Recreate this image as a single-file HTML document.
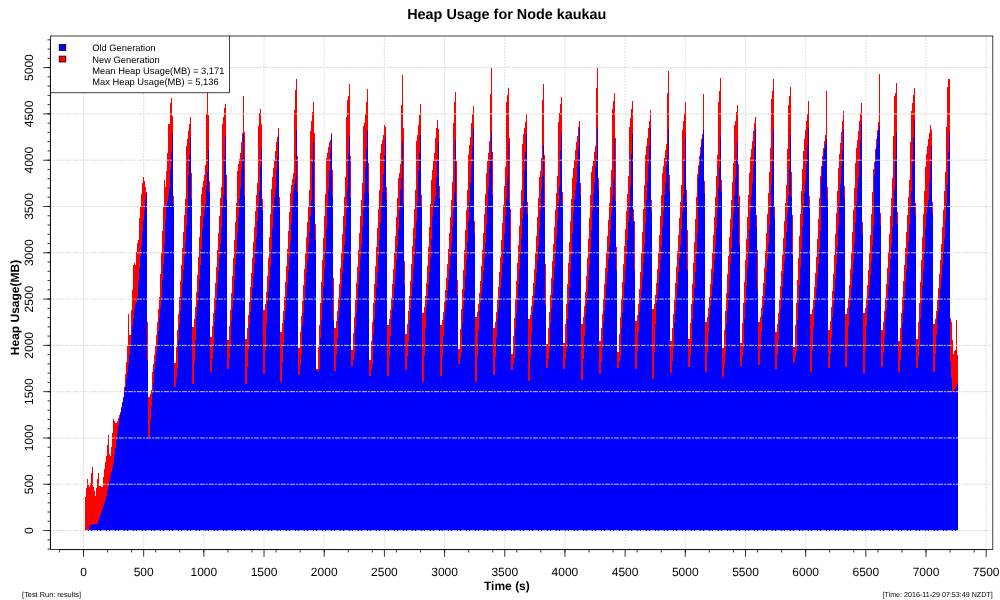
<!DOCTYPE html>
<html lang="en"><head><meta charset="utf-8"><title>Heap Usage for Node kaukau</title>
<style>html,body{margin:0;padding:0;background:#fff;}body{width:1000px;height:600px;overflow:hidden;}svg{display:block;will-change:transform;}</style></head>
<body>
<svg width="1000" height="600" viewBox="0 0 1000 600" font-family="'Liberation Sans', Arial, Helvetica, sans-serif" text-rendering="geometricPrecision">
<rect width="1000" height="600" fill="#fff"/>
<g stroke="#dcdcdc" stroke-width="0.9" fill="none" stroke-dasharray="2 1">
<line x1="83.50" y1="36.0" x2="83.50" y2="549.6"/>
<line x1="143.68" y1="36.0" x2="143.68" y2="549.6"/>
<line x1="203.86" y1="36.0" x2="203.86" y2="549.6"/>
<line x1="264.04" y1="36.0" x2="264.04" y2="549.6"/>
<line x1="324.22" y1="36.0" x2="324.22" y2="549.6"/>
<line x1="384.40" y1="36.0" x2="384.40" y2="549.6"/>
<line x1="444.58" y1="36.0" x2="444.58" y2="549.6"/>
<line x1="504.76" y1="36.0" x2="504.76" y2="549.6"/>
<line x1="564.94" y1="36.0" x2="564.94" y2="549.6"/>
<line x1="625.12" y1="36.0" x2="625.12" y2="549.6"/>
<line x1="685.30" y1="36.0" x2="685.30" y2="549.6"/>
<line x1="745.48" y1="36.0" x2="745.48" y2="549.6"/>
<line x1="805.66" y1="36.0" x2="805.66" y2="549.6"/>
<line x1="865.84" y1="36.0" x2="865.84" y2="549.6"/>
<line x1="926.02" y1="36.0" x2="926.02" y2="549.6"/>
<line x1="986.20" y1="36.0" x2="986.20" y2="549.6"/>
</g>
<path d="M85 530.6V497.2H86V488.2H87V478.8H88V484.8H89V487.3H90V482.8H91V473.4H92V467.3H93V486.9H94V491.2H95V495.6H96V487.5H97V479.3H98V473.3H99V486H100V486.3H101V486.6H102V487H103V476.9H104V468.9H105V462.3H106V455.7H107V445.3H108V434.5H109V454H110V456H111V446.5H112V432.9H113V419.4H114V421.2H115V423H117V420.6H118V418H119V415.3H120V411.6H121V406.8H122V402H123V396.7H124V387H125V374H126V362H127V346H128V314H129V335H131V310H132V290H133V264.5H134V263H135V265H136V251.7H137V243.3H138V240H139V218H140V206H141V193.7H142V182.7H143V176.5H144V181H145V187H146V191.5H147V322H148V397H150V393.5H151V390H152V372H153V364H154V355H155V346H156V335H157V322H158V309H159V297H160V274H161V252H162V231H163V207H164V180H165V187H166V171H167V153H168V124H170V103H171V98H172V116H173V196H174V363H176V346.6H177V330.2H178V313.8H179V297.4H180V281H181V264.6H182V248.2H183V231.8H184V215.4H185V199H186V146H187V139H188V131H189V124H190V116.6H191V173H192V327H194V319.1H195V306.8H196V292H197V275.2H198V256.8H199V237.1H200V216.1H201V194H202V187H203V181H204V175H205V165H206V113H207V55H208V115H209V181H210V337H212V326.1H213V312.7H214V298.1H215V282.7H216V266.7H217V250.2H218V233.1H219V215.8H220V198H221V187H222V124H223V117H224V108H225V104H226V175H227V340H229V326.1H230V310.2H231V293.4H232V276.1H233V258.3H234V240.2H235V221.7H236V203H237V171H238V164H239V159H240V153H241V142H242V133H243V96H244V132H245V339H247V328.1H248V315.3H249V301.6H250V287.4H251V272.7H252V257.7H253V242.4H254V226.8H255V211H256V195H257V183H258V126H259V113H260V109H261V124H262V199H263V310H265V303.5H266V291.5H267V276.1H268V257.7H269V237H270V214H271V189H272V177H273V168H274V160H275V151H276V142H277V137H278V128H279V197H280V332H282V323.3H283V311.1H284V297.2H285V282H286V265.7H287V248.6H288V230.7H289V212.2H290V193H291V185H292V179H293V173H294V110H295V90H296V79H297V156H298V348H300V332.2H301V316.4H302V300.6H303V284.8H304V269H305V253.2H306V237.4H307V221.6H308V205.8H309V190H310V131H311V121H312V112H313V102H314V133H315V224H316V369H318V347.1H319V325.2H320V303.4H321V281.5H322V259.6H323V237.8H324V215.9H325V194H326V158H327V153H328V147H329V142H330V140H331V133H332V170H333V278H334V328H336V321.1H337V310.5H338V297.9H339V283.8H340V268.4H341V251.8H342V234.4H343V216H344V196.9H345V177H346V117H347V100H348V96H349V84H350V156H351V350H353V333.3H354V316.6H355V299.9H356V283.2H357V266.5H358V249.8H359V233.1H360V216.4H361V199.7H362V183H363V126H364V123H365V113H366V102H367V89H368V163H369V360H371V341.1H372V322.2H373V303.3H374V284.4H375V265.6H376V246.7H377V227.8H378V208.9H379V190H380V153H381V144H382V140H383V135H384V125H385V127H386V187H387V325H389V319.1H390V309.6H391V297.8H392V284.2H393V269.3H394V253.1H395V235.8H396V217.4H397V198.2H398V178H399V173H400V164H401V105H402V75H403V128H404V261H405V334H407V324.1H408V311H409V296.3H410V280.5H411V263.7H412V246.2H413V228H414V209.3H415V190H416V141H417V135H418V125H419V115H420V104H421V195H422V313H424V307.1H425V296.4H426V282.5H427V266H428V247.3H429V226.6H430V204.1H431V180H432V170H433V161H434V153H435V138H436V128H437V120H438V129H439V186H440V325H442V320H443V311.9H444V301.8H445V290.3H446V277.6H447V263.8H448V249.1H449V233.4H450V217H451V199.9H452V182H453V123H454V102H455V92H456V161H457V280H458V349H460V329.1H461V309.2H462V289.4H463V269.5H464V249.6H465V229.8H466V209.9H467V190H468V155H469V145H470V137H471V123H472V114H473V106H474V221H475V317H477V312.4H478V304.1H479V293.3H480V280.6H481V266.1H482V250.1H483V232.7H484V214H485V194.1H486V173H487V161H488V153H489V141H490V94H491V68H492V152H493V328H495V321.5H496V311.6H497V299.8H498V286.5H499V272H500V256.5H501V240.1H502V222.9H503V205H504V186.3H505V167H506V102H507V95H508V88H509V138H510V209H511V354H513V335.8H514V317.6H515V299.3H516V281.1H517V262.9H518V244.7H519V226.4H520V208.2H521V190H522V144H523V134H524V128H525V122H526V114H527V202H528V319H530V314.5H531V306.3H532V295.7H533V283.1H534V268.8H535V253H536V235.8H537V217.4H538V197.8H539V177H540V171H541V158H542V100H543V84H544V155H545V264H546V344H548V328H549V311.5H550V294.8H551V278H552V261.2H553V244.2H554V227.2H555V210.2H556V193.1H557V176H558V122H559V113H560V104H561V97H562V192H563V343H565V324H566V304H567V283.5H568V262.8H569V241.8H570V220.7H571V199.4H572V178H573V168H574V160H575V150H576V142H577V136H578V127H579V121H580V183H581V324H583V317.3H584V306H585V292.1H586V275.9H587V258H588V238.5H589V217.6H590V195.4H591V172H592V166H593V161H594V152H595V146H596V88H597V68H598V178H599V341H601V328.2H602V313.9H603V299H604V283.7H605V268H606V252.1H607V236H608V219.8H609V203.3H610V186.7H611V170H612V109H613V101H614V93H615V138H616V247H617V352H619V334.4H620V316.8H621V299.2H622V281.6H623V264H624V246.4H625V228.8H626V211.2H627V193.6H628V176H629V127H630V118H631V109H632V101H633V209H634V221H635V321H637V314.7H638V303.5H639V289.2H640V272.2H641V253.2H642V232.2H643V209.4H644V185H645V155H646V146H647V138H648V128H649V121H650V110H651V200H652V309H654V304H655V294.8H656V282.8H657V268.7H658V252.7H659V235H660V215.7H661V195H662V173H663V166H664V158H665V150H666V144H667V93H668V71H669V175H670V341H672V328H673V313.6H674V298.5H675V283H676V267.2H677V251.1H678V234.9H679V218.4H680V201.8H681V185H682V130H683V121H684V113H685V102H686V190H687V230H688V339H690V322.9H691V304.1H692V284H693V263.1H694V241.5H695V219.4H696V196.9H697V174H698V165H699V156H700V147H701V139H702V134H703V94H704V181H705V322H707V316.9H708V308.1H709V296.8H710V283.7H711V268.9H712V252.7H713V235.3H714V216.6H715V196.8H716V176H717V155H718V102H719V91H720V78H721V180H722V348H724V329.5H725V311H726V292.5H727V274H728V255.5H729V237H730V218.5H731V200H732V181.5H733V163H734V125H735V121H736V112H737V105H738V164H739V196H740V343H742V323.4H743V302.8H744V281.7H745V260.3H746V238.7H747V217H748V195H749V173H750V157H751V149H752V141H753V131H754V123H755V117H756V215H757V250H758V322H760V316.8H761V307.7H762V296.1H763V282.6H764V267.5H765V250.8H766V232.9H767V213.7H768V193.4H769V172H770V148H771V99H772V91H773V79H774V206H775V332H777V323.9H778V312.7H779V299.8H780V285.7H781V270.6H782V254.8H783V238.2H784V221H785V203.3H786V185H787V149H788V105H789V96H790V87H791V172H792V215H793V347H795V324.8H796V302.5H797V280.2H798V258H799V235.8H800V213.5H801V191.2H802V169H803V151H804V139H805V130H806V121H807V114H808V101H809V196H810V314H812V308.9H813V299.5H814V287.4H815V273.1H816V256.9H817V238.9H818V219.3H819V198.3H820V176H821V166H822V156H823V148H824V141H825V135H826V91H827V187H828V330H830V320.7H831V307.1H832V291.2H833V273.5H834V254.5H835V234.4H836V213.2H837V191H838V168H839V154H840V143H841V132H842V121H843V111H844V186H845V314H847V308.4H848V298.2H849V284.9H850V269.3H851V251.5H852V231.8H853V210.4H854V187.5H855V163H856V148H857V140H858V131H859V121H860V113H861V103H862V222H863V313H865V307.7H866V297.9H867V285.3H868V270.3H869V253.4H870V234.6H871V214.2H872V192.3H873V169H874V162H875V149H876V139H877V130H878V122H879V74H880V213H881V330H883V322.4H884V311.2H885V298.2H886V283.8H887V268.3H888V251.8H889V234.4H890V216.3H891V197.5H892V178H893V136H894V96H895V93H896V83H897V212H898V341H900V327.6H901V312.7H902V297.1H903V281.2H904V264.8H905V248.3H906V231.5H907V214.5H908V197.3H909V180H910V142H911V111H912V103H913V95H914V88H915V203H916V339H918V322.2H919V302.6H920V281.7H921V259.9H922V237.4H923V214.4H924V190.9H925V167H926V154H927V146H928V139H929V133H930V125H931V130H932V202H933V324H935V319H936V310.5H937V300H938V287.9H939V274.4H940V259.7H941V244H942V227.3H943V209.7H944V191.2H945V172H946V127H947V87H948V79H950V318H951V322H952V340H953V354H954V351H955V350H956V320H957V355H958V530.6Z" fill="#ff0000" shape-rendering="crispEdges"/>
<path d="M88 530.6V530.1H89V526.2H90V524.7H91V524.6H92V524.4H93V524.3H94V524.1H95V524H96V523.8H97V523.7H98V521.2H99V517H100V514.5H101V512H102V509H103V505.9H104V503H105V500H106V496.4H107V491.2H108V486H109V481H110V476.1H111V471.8H112V467.8H113V462.5H114V454.6H115V447.5H116V440.4H117V433.1H118V425.7H119V419.2H120V413.5H121V408.1H122V403.3H123V398.2H124V392.1H125V386H126V379.2H127V371.5H128V363.8H129V355H130V345H131V335H132V325.8H133V317.5H134V309.2H135V303.9H136V301.7H137V297.1H138V282.4H139V268.8H140V256.2H141V243.8H142V231.2H143V220H144V210H145V200.4H146V194H147V360H148V437H150V421.8H151V405.8H152V393.8H153V383H154V370H155V361.5H156V352.5H157V342.5H158V330.5H159V317.9H160V308.1H161V298.5H162V280.4H163V263.5H164V243.5H165V221H166V206H167V201H168V196H169V188H170V170H171V152H172V134H173V204H174V387H176V377.9H177V368.3H178V340.4H179V324.4H180V310.7H181V297H182V283.3H183V269.6H184V255.9H185V242H186V225.6H187V209.2H188V174.5H189V155H190V137H191V199H192V384H194V362.3H195V339.5H196V316H197V305.1H198V292.8H199V279.4H200V265H201V248.9H202V228.6H203V216.9H204V210.2H205V204H206V186H207V172H208V150H209V193H210V372H212V358.7H213V344.7H214V321.7H215V309.9H216V297.6H217V284.7H218V271.4H219V257.8H220V243.7H221V226.5H222V208.9H223V194.5H224V157.5H225V137H226V199H227V369H229V358H230V346.4H231V321.2H232V307.8H233V294H234V279.8H235V265.3H236V250.7H237V232.9H238V217.3H239V199.2H240V188H241V170H242V158H243V134H244V196H245V384H247V366.9H248V348.9H249V323.7H250V312.2H251V300.4H252V288.3H253V275.9H254V263.2H255V250.4H256V237H257V220.9H258V205H259V191H260V166H261V148H262V210H263V374H265V349.7H266V324.1H267V302.4H268V292.3H269V280.1H270V266.3H271V249.3H272V227.5H273V209.9H274V198.2H275V189H276V171H277V157.5H278V135H279V205H280V382H282V363H283V343H284V319.5H285V308.7H286V296.8H287V284.2H288V270.9H289V257.1H290V241.7H291V223.4H292V204.6H293V191H294V184H295V178H296V130H297V192H298V375H300V364.7H301V353.9H302V326.3H303V312.9H304V299.6H305V286.3H306V273H307V259.7H308V246.4H309V231.5H310V215.7H311V199.9H312V162.5H313V142H314V204H315V240H316V371H319V369.4H320V338.2H321V320.4H322V303.3H323V286.2H324V269.1H325V250.7H326V228.8H327V207H328V189H329V171H330V153H331V135H332V197H333V320H334V371H336V354.7H337V337.5H338V318H339V308.3H340V297.3H341V285.5H342V272.8H343V259.5H344V245.1H345V227.2H346V208.5H347V188.9H348V154H349V136H350V198H351V366H353V359.9H354V353.5H355V327H356V313.1H357V299.1H358V285.2H359V271.3H360V257.4H361V243.5H362V226.8H363V210.1H364V193.3H365V167H366V149H367V131H368V193H369V376H371V369.9H372V363.5H373V333.7H374V317.7H375V302.4H376V287.1H377V271.8H378V256.4H379V239.2H380V222.6H381V206.6H382V192H383V174H384V156H385V138H386V200H387V376H389V356.6H390V336.2H391V316.6H392V307.5H393V297.1H394V285.8H395V273.4H396V260.4H397V246.4H398V228.6H399V209.8H400V190.1H401V177.5H402V142H403V204H404V285H405V370H407V356.3H408V341.9H409V320.1H410V308.5H411V296.1H412V283.1H413V269.4H414V255.3H415V239.1H416V220.6H417V201.6H418V171H419V153H420V135H421V207H422V382H424V355.8H425V328.2H426V305.6H427V296.2H428V284.8H429V271.8H430V257.9H431V238.9H432V217.4H433V206H434V201H435V196H436V178H437V160H438V142H439V198H440V376H442V356.6H443V336.2H444V317.9H445V309.8H446V300.6H447V290.5H448V279.7H449V268.1H450V255.9H451V243.2H452V227.2H453V210.4H454V192.9H455V140H456V202H457V295H458V364H460V358.3H461V352.3H462V323.3H463V307.4H464V291.4H465V275.5H466V259.6H467V241.7H468V221.8H469V201.9H470V183H471V165H472V147H473V129H474V233H475V382H477V357.3H478V331.3H479V310.8H480V302.8H481V293.3H482V282.6H483V270.6H484V257.8H485V243.4H486V225.3H487V206H488V187H489V169H490V159H491V133H492V195H493V375H495V357.1H496V338.3H497V318.6H498V309.3H499V298.8H500V287.5H501V275.5H502V262.7H503V249.5H504V233.5H505V215.9H506V197.6H507V178.7H508V141H509V203H510V250H511V370H513V363.9H514V357.5H515V328.8H516V313.9H517V299H518V284.1H519V269.2H520V254.3H521V237.6H522V219.3H523V201.1H524V170H525V152H526V134H527V214H528V381H530V357.4H531V332.6H532V312.8H533V304.8H534V295.3H535V284.6H536V272.8H537V260.2H538V246.4H539V228.6H540V209.6H541V189.4H542V176H543V145H544V207H545V305H546V368H548V358.9H549V349.3H550V322.6H551V308.8H552V294.9H553V281H554V267H555V253H556V237.7H557V220.7H558V203.7H559V186.6H560V151H561V133H562V204H563V369H565V359.1H566V348.7H567V319.3H568V303.4H569V287.2H570V270.8H571V254.3H572V233.2H573V212H574V198.9H575V190H576V182H577V164H578V148H579V128H580V195H581V380H583V358.7H584V336.3H585V314.6H586V304.4H587V292.8H588V279.8H589V265.8H590V250.3H591V230.1H592V211.4H593V194.3H594V182H595V165.5H596V158.5H597V128H598V190H599V374H601V361.5H602V348.3H603V323.2H604V310.9H605V298.2H606V285.3H607V272.2H608V258.9H609V245.6H610V229.9H611V213.5H612V197H613V180.4H614V139H615V201H616V270H617V368H619V361.9H620V355.5H621V327.7H622V313.2H623V298.7H624V284.2H625V269.7H626V255.2H627V239.6H628V222H629V204.4H630V186.8H631V153.5H632V134H633V221H634V270H635V369H637V350.8H638V331.6H639V312.3H640V302.3H641V290.6H642V277.3H643V262.9H644V244.7H645V222.8H646V199.7H647V182H648V164H649V146H650V128H651V212H652V379H654V352.4H655V324.4H656V302.9H657V294.5H658V284.4H659V272.8H660V260.2H661V245.8H662V227.3H663V210.9H664V195H665V183H666V165H667V156H668V129H669V191H670V373H672V360.8H673V348H674V323H675V310.6H676V297.8H677V284.8H678V271.6H679V258.2H680V244.7H681V228.6H682V212.1H683V195.4H684V159.5H685V138H686V202H687V270H688V367H690V356.4H691V345.2H692V318.5H693V303.4H694V287.7H695V271.5H696V254.3H697V232.5H698V177H699V166H700V155H701V145H702V138H703V130H704V193H705V372H707V353H708V333H709V314.8H710V306.3H711V296.3H712V285.3H713V273.1H714V260.2H715V246H716V227.9H717V208.7H718V188.4H719V167.5H720V137H721V192H722V377H724V366H725V354.4H726V323.6H727V308.6H728V293.5H729V278.4H730V263.3H731V248.2H732V230.4H733V212.9H734V196H735V178H736V160H737V142H738V204H739V245H740V366H742V357.3H743V348.1H744V318.9H745V302.6H746V286.1H747V269.4H748V251.5H749V229.8H750V211.3H751V195H752V183H753V165H754V147H755V129H756V227H757V290H758V365H760V348.7H761V331.5H762V314.6H763V305.9H764V295.8H765V284.5H766V272.1H767V258.9H768V243.9H769V225.3H770V205.5H771V184.7H772V162H773V130H774V218H775V369H777V354.9H778V340.1H779V320.3H780V310.1H781V298.8H782V286.9H783V274.4H784V261.4H785V247.9H786V231.6H787V214.2H788V196.1H789V169H790V135H791V197H792V255H793V363H795V356.9H796V350.5H797V320H798V302.7H799V285.4H800V268.1H801V248.9H802V226.6H803V208.5H804V192.9H805V182H806V164H807V146H808V128H809V208H810V372H812V350H813V326.8H814V307.4H815V298.7H816V288.5H817V276.7H818V263.8H819V249.9H820V231.1H821V178H822V166H823V156H824V149H825V144H826V139H827V199H828V368H830V353.6H831V338.4H832V317.1H833V305.3H834V292.4H835V278.3H836V263.6H837V246.5H838V225.8H839V204.1H840V184H841V166H842V150.5H843V130H844V198H845V367H847V346.9H848V325.7H849V306.8H850V297.6H851V286.7H852V274.1H853V260.5H854V243.6H855V223.1H856V204.9H857V188.5H858V178H859V160H860V142H861V124H862V234H863V373H865V350.2H866V326.2H867V306.2H868V297.3H869V286.8H870V274.6H871V261.4H872V246H873V226.4H874V174H875V159H876V147H877V136H878V131H879V126H880V225H881V367H883V352.9H884V338.1H885V319H886V308.8H887V297.6H888V285.5H889V272.7H890V259.3H891V245.1H892V227.3H893V208.9H894V189.7H895V159H896V132H897V224H898V372H900V360.2H901V347.8H902V322.6H903V309.8H904V296.8H905V283.4H906V269.9H907V256.2H908V241.9H909V225H910V207.9H911V190.7H912V163H913V138H914V120H915V215H916V368H918V357H919V345.4H920V318H921V302.5H922V286.3H923V269.6H924V250.6H925V227.9H926V214H927V205H928V200H929V182H930V164H931V146H932V214H933V372H935V353.8H936V334.6H937V316.7H938V308.5H939V299H940V288.5H941V277.2H942V265.1H943V252.3H944V237.6H945V220.5H946V202.5H947V183.6H948V151.5H949V133H950V362H951V378H952V392H953V391H954V390H955V388H956V386H957V384H958V530.6Z" fill="#0000ff" shape-rendering="crispEdges"/>
<g stroke="#dcdcdc" stroke-width="0.9" fill="none" stroke-dasharray="5 1 2 1" stroke-dashoffset="3.5">
<line x1="50.4" y1="530.56" x2="992.8" y2="530.56"/>
<line x1="50.4" y1="484.26" x2="992.8" y2="484.26"/>
<line x1="50.4" y1="437.97" x2="992.8" y2="437.97"/>
<line x1="50.4" y1="391.67" x2="992.8" y2="391.67"/>
<line x1="50.4" y1="345.37" x2="992.8" y2="345.37"/>
<line x1="50.4" y1="299.08" x2="992.8" y2="299.08"/>
<line x1="50.4" y1="252.78" x2="992.8" y2="252.78"/>
<line x1="50.4" y1="206.48" x2="992.8" y2="206.48"/>
<line x1="50.4" y1="160.19" x2="992.8" y2="160.19"/>
<line x1="50.4" y1="113.89" x2="992.8" y2="113.89"/>
<line x1="50.4" y1="67.59" x2="992.8" y2="67.59"/>
</g>
<rect x="50.4" y="36.0" width="179.10" height="56.70" fill="#fff"/>
<path d="M229.5 36.0V92.7H50.4" fill="none" stroke="#000" stroke-width="0.75"/>
<rect x="59.2" y="44.6" width="6.6" height="5.9" fill="#0000ff" stroke="#000" stroke-width="0.75"/>
<rect x="59.2" y="56.1" width="6.6" height="5.9" fill="#ff0000" stroke="#000" stroke-width="0.75"/>
<g font-size="9.36" fill="#000">
<text x="92.2" y="50.7">Old Generation</text>
<text x="92.2" y="62.5">New Generation</text>
<text x="92.2" y="73.9">Mean Heap Usage(MB) = 3,171</text>
<text x="92.2" y="85.3">Max Heap Usage(MB) = 5,136</text>
</g>
<g stroke="#000" stroke-width="0.75" fill="none">
<rect x="50.4" y="36.0" width="942.40" height="513.60"/>
<line x1="50.4" y1="39.82" x2="50.4" y2="549.08"/>
<line x1="59.43" y1="549.6" x2="986.20" y2="549.6"/>
</g>
<g stroke="#000" stroke-width="0.8" fill="none">
<line x1="43.20" y1="530.56" x2="50.4" y2="530.56"/>
<line x1="43.20" y1="484.26" x2="50.4" y2="484.26"/>
<line x1="43.20" y1="437.97" x2="50.4" y2="437.97"/>
<line x1="43.20" y1="391.67" x2="50.4" y2="391.67"/>
<line x1="43.20" y1="345.37" x2="50.4" y2="345.37"/>
<line x1="43.20" y1="299.08" x2="50.4" y2="299.08"/>
<line x1="43.20" y1="252.78" x2="50.4" y2="252.78"/>
<line x1="43.20" y1="206.48" x2="50.4" y2="206.48"/>
<line x1="43.20" y1="160.19" x2="50.4" y2="160.19"/>
<line x1="43.20" y1="113.89" x2="50.4" y2="113.89"/>
<line x1="43.20" y1="67.59" x2="50.4" y2="67.59"/>
<line x1="47.50" y1="549.08" x2="50.4" y2="549.08"/>
<line x1="47.50" y1="539.82" x2="50.4" y2="539.82"/>
<line x1="47.50" y1="530.56" x2="50.4" y2="530.56"/>
<line x1="47.50" y1="521.30" x2="50.4" y2="521.30"/>
<line x1="47.50" y1="512.04" x2="50.4" y2="512.04"/>
<line x1="47.50" y1="502.78" x2="50.4" y2="502.78"/>
<line x1="47.50" y1="493.52" x2="50.4" y2="493.52"/>
<line x1="47.50" y1="484.26" x2="50.4" y2="484.26"/>
<line x1="47.50" y1="475.00" x2="50.4" y2="475.00"/>
<line x1="47.50" y1="465.74" x2="50.4" y2="465.74"/>
<line x1="47.50" y1="456.49" x2="50.4" y2="456.49"/>
<line x1="47.50" y1="447.23" x2="50.4" y2="447.23"/>
<line x1="47.50" y1="437.97" x2="50.4" y2="437.97"/>
<line x1="47.50" y1="428.71" x2="50.4" y2="428.71"/>
<line x1="47.50" y1="419.45" x2="50.4" y2="419.45"/>
<line x1="47.50" y1="410.19" x2="50.4" y2="410.19"/>
<line x1="47.50" y1="400.93" x2="50.4" y2="400.93"/>
<line x1="47.50" y1="391.67" x2="50.4" y2="391.67"/>
<line x1="47.50" y1="382.41" x2="50.4" y2="382.41"/>
<line x1="47.50" y1="373.15" x2="50.4" y2="373.15"/>
<line x1="47.50" y1="363.89" x2="50.4" y2="363.89"/>
<line x1="47.50" y1="354.63" x2="50.4" y2="354.63"/>
<line x1="47.50" y1="345.37" x2="50.4" y2="345.37"/>
<line x1="47.50" y1="336.11" x2="50.4" y2="336.11"/>
<line x1="47.50" y1="326.86" x2="50.4" y2="326.86"/>
<line x1="47.50" y1="317.60" x2="50.4" y2="317.60"/>
<line x1="47.50" y1="308.34" x2="50.4" y2="308.34"/>
<line x1="47.50" y1="299.08" x2="50.4" y2="299.08"/>
<line x1="47.50" y1="289.82" x2="50.4" y2="289.82"/>
<line x1="47.50" y1="280.56" x2="50.4" y2="280.56"/>
<line x1="47.50" y1="271.30" x2="50.4" y2="271.30"/>
<line x1="47.50" y1="262.04" x2="50.4" y2="262.04"/>
<line x1="47.50" y1="252.78" x2="50.4" y2="252.78"/>
<line x1="47.50" y1="243.52" x2="50.4" y2="243.52"/>
<line x1="47.50" y1="234.26" x2="50.4" y2="234.26"/>
<line x1="47.50" y1="225.00" x2="50.4" y2="225.00"/>
<line x1="47.50" y1="215.74" x2="50.4" y2="215.74"/>
<line x1="47.50" y1="206.48" x2="50.4" y2="206.48"/>
<line x1="47.50" y1="197.23" x2="50.4" y2="197.23"/>
<line x1="47.50" y1="187.97" x2="50.4" y2="187.97"/>
<line x1="47.50" y1="178.71" x2="50.4" y2="178.71"/>
<line x1="47.50" y1="169.45" x2="50.4" y2="169.45"/>
<line x1="47.50" y1="160.19" x2="50.4" y2="160.19"/>
<line x1="47.50" y1="150.93" x2="50.4" y2="150.93"/>
<line x1="47.50" y1="141.67" x2="50.4" y2="141.67"/>
<line x1="47.50" y1="132.41" x2="50.4" y2="132.41"/>
<line x1="47.50" y1="123.15" x2="50.4" y2="123.15"/>
<line x1="47.50" y1="113.89" x2="50.4" y2="113.89"/>
<line x1="47.50" y1="104.63" x2="50.4" y2="104.63"/>
<line x1="47.50" y1="95.37" x2="50.4" y2="95.37"/>
<line x1="47.50" y1="86.11" x2="50.4" y2="86.11"/>
<line x1="47.50" y1="76.85" x2="50.4" y2="76.85"/>
<line x1="47.50" y1="67.59" x2="50.4" y2="67.59"/>
<line x1="47.50" y1="58.34" x2="50.4" y2="58.34"/>
<line x1="47.50" y1="49.08" x2="50.4" y2="49.08"/>
<line x1="47.50" y1="39.82" x2="50.4" y2="39.82"/>
<line x1="83.50" y1="549.6" x2="83.50" y2="556.80"/>
<line x1="143.68" y1="549.6" x2="143.68" y2="556.80"/>
<line x1="203.86" y1="549.6" x2="203.86" y2="556.80"/>
<line x1="264.04" y1="549.6" x2="264.04" y2="556.80"/>
<line x1="324.22" y1="549.6" x2="324.22" y2="556.80"/>
<line x1="384.40" y1="549.6" x2="384.40" y2="556.80"/>
<line x1="444.58" y1="549.6" x2="444.58" y2="556.80"/>
<line x1="504.76" y1="549.6" x2="504.76" y2="556.80"/>
<line x1="564.94" y1="549.6" x2="564.94" y2="556.80"/>
<line x1="625.12" y1="549.6" x2="625.12" y2="556.80"/>
<line x1="685.30" y1="549.6" x2="685.30" y2="556.80"/>
<line x1="745.48" y1="549.6" x2="745.48" y2="556.80"/>
<line x1="805.66" y1="549.6" x2="805.66" y2="556.80"/>
<line x1="865.84" y1="549.6" x2="865.84" y2="556.80"/>
<line x1="926.02" y1="549.6" x2="926.02" y2="556.80"/>
<line x1="986.20" y1="549.6" x2="986.20" y2="556.80"/>
<line x1="59.43" y1="549.6" x2="59.43" y2="552.50"/>
<line x1="83.50" y1="549.6" x2="83.50" y2="552.50"/>
<line x1="107.57" y1="549.6" x2="107.57" y2="552.50"/>
<line x1="131.64" y1="549.6" x2="131.64" y2="552.50"/>
<line x1="155.72" y1="549.6" x2="155.72" y2="552.50"/>
<line x1="179.79" y1="549.6" x2="179.79" y2="552.50"/>
<line x1="203.86" y1="549.6" x2="203.86" y2="552.50"/>
<line x1="227.93" y1="549.6" x2="227.93" y2="552.50"/>
<line x1="252.00" y1="549.6" x2="252.00" y2="552.50"/>
<line x1="276.08" y1="549.6" x2="276.08" y2="552.50"/>
<line x1="300.15" y1="549.6" x2="300.15" y2="552.50"/>
<line x1="324.22" y1="549.6" x2="324.22" y2="552.50"/>
<line x1="348.29" y1="549.6" x2="348.29" y2="552.50"/>
<line x1="372.36" y1="549.6" x2="372.36" y2="552.50"/>
<line x1="396.44" y1="549.6" x2="396.44" y2="552.50"/>
<line x1="420.51" y1="549.6" x2="420.51" y2="552.50"/>
<line x1="444.58" y1="549.6" x2="444.58" y2="552.50"/>
<line x1="468.65" y1="549.6" x2="468.65" y2="552.50"/>
<line x1="492.72" y1="549.6" x2="492.72" y2="552.50"/>
<line x1="516.80" y1="549.6" x2="516.80" y2="552.50"/>
<line x1="540.87" y1="549.6" x2="540.87" y2="552.50"/>
<line x1="564.94" y1="549.6" x2="564.94" y2="552.50"/>
<line x1="589.01" y1="549.6" x2="589.01" y2="552.50"/>
<line x1="613.08" y1="549.6" x2="613.08" y2="552.50"/>
<line x1="637.16" y1="549.6" x2="637.16" y2="552.50"/>
<line x1="661.23" y1="549.6" x2="661.23" y2="552.50"/>
<line x1="685.30" y1="549.6" x2="685.30" y2="552.50"/>
<line x1="709.37" y1="549.6" x2="709.37" y2="552.50"/>
<line x1="733.44" y1="549.6" x2="733.44" y2="552.50"/>
<line x1="757.52" y1="549.6" x2="757.52" y2="552.50"/>
<line x1="781.59" y1="549.6" x2="781.59" y2="552.50"/>
<line x1="805.66" y1="549.6" x2="805.66" y2="552.50"/>
<line x1="829.73" y1="549.6" x2="829.73" y2="552.50"/>
<line x1="853.80" y1="549.6" x2="853.80" y2="552.50"/>
<line x1="877.88" y1="549.6" x2="877.88" y2="552.50"/>
<line x1="901.95" y1="549.6" x2="901.95" y2="552.50"/>
<line x1="926.02" y1="549.6" x2="926.02" y2="552.50"/>
<line x1="950.09" y1="549.6" x2="950.09" y2="552.50"/>
<line x1="974.16" y1="549.6" x2="974.16" y2="552.50"/>
</g>
<g font-size="12" fill="#000" text-anchor="middle">
<text x="83.50" y="575.6">0</text>
<text x="143.68" y="575.6">500</text>
<text x="203.86" y="575.6">1000</text>
<text x="264.04" y="575.6">1500</text>
<text x="324.22" y="575.6">2000</text>
<text x="384.40" y="575.6">2500</text>
<text x="444.58" y="575.6">3000</text>
<text x="504.76" y="575.6">3500</text>
<text x="564.94" y="575.6">4000</text>
<text x="625.12" y="575.6">4500</text>
<text x="685.30" y="575.6">5000</text>
<text x="745.48" y="575.6">5500</text>
<text x="805.66" y="575.6">6000</text>
<text x="865.84" y="575.6">6500</text>
<text x="926.02" y="575.6">7000</text>
<text x="986.20" y="575.6">7500</text>
<text transform="translate(32.9 530.56) rotate(-90)">0</text>
<text transform="translate(32.9 484.26) rotate(-90)">500</text>
<text transform="translate(32.9 437.97) rotate(-90)">1000</text>
<text transform="translate(32.9 391.67) rotate(-90)">1500</text>
<text transform="translate(32.9 345.37) rotate(-90)">2000</text>
<text transform="translate(32.9 299.08) rotate(-90)">2500</text>
<text transform="translate(32.9 252.78) rotate(-90)">3000</text>
<text transform="translate(32.9 206.48) rotate(-90)">3500</text>
<text transform="translate(32.9 160.19) rotate(-90)">4000</text>
<text transform="translate(32.9 113.89) rotate(-90)">4500</text>
<text transform="translate(32.9 67.59) rotate(-90)">5000</text>
</g>
<text x="506.8" y="19.2" font-size="14.4" font-weight="bold" text-anchor="middle">Heap Usage for Node kaukau</text>
<text x="506.9" y="589.5" font-size="12" font-weight="bold" text-anchor="middle">Time (s)</text>
<text transform="translate(18.9 307.5) rotate(-90)" font-size="12" font-weight="bold" text-anchor="middle">Heap Usage(MB)</text>
<text x="22.1" y="596.8" font-size="7.3" textLength="59" lengthAdjust="spacingAndGlyphs">[Test Run: results]</text>
<text x="882.5" y="596.8" font-size="7.2" textLength="110.2" lengthAdjust="spacingAndGlyphs">[Time: 2016-11-29 07:53:49 NZDT]</text>
</svg>
</body></html>
